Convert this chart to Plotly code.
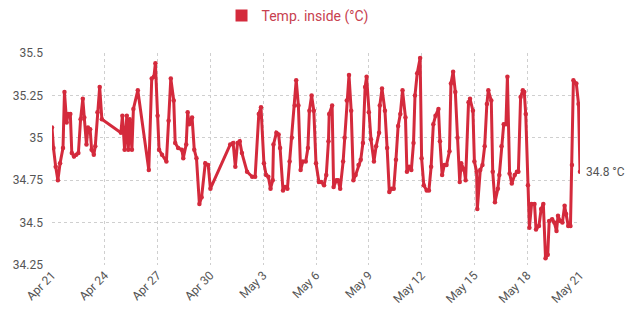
import pandas as pd
import plotly.graph_objects as go

start = pd.Timestamp("2023-04-21 00:00")

hours = [0, 2, 5, 8, 11, 15, 17, 20, 22, 25, 27, 30, 33, 36, 39, 42, 44, 47, 49, 52, 54, 57, 59, 62, 65, 68,
         94, 96, 99, 102, 104, 106, 109, 111, 117, 132, 136, 139, 141, 144, 146, 150, 156, 159, 162, 166, 168,
         172, 177, 179, 183, 185, 187, 191, 194, 197, 201, 204, 209, 213, 216, 243, 247, 250, 253, 256, 259,
         266, 273, 277, 282, 285, 289, 292, 295, 298, 301, 302, 306, 309, 311, 315, 318, 321, 324, 327, 331,
         333, 336, 339, 342, 346, 349, 351, 354, 357, 360, 364, 367, 371, 374, 377, 378, 382, 384, 388, 390,
         393, 397, 399, 402, 405, 408, 411, 414, 418, 421, 424, 427, 429, 432, 435, 439, 442, 446, 447, 450,
         454, 457, 460, 463, 466, 469, 472, 475, 478, 482, 484, 487, 490, 493, 495, 498, 502, 504, 507, 511,
         514, 517, 520, 523, 527, 529, 532, 535, 538, 542, 544, 547, 550, 553, 556, 558, 562, 564, 568, 570,
         574, 576, 579, 580, 584, 587, 590, 593, 595, 599, 601, 604, 608, 610, 613, 616, 619, 621, 624, 627,
         631, 634, 636, 639, 642, 644, 646, 649, 651, 654, 658, 660, 664, 667, 670, 673, 676, 678, 682, 685,
         688, 690, 693, 696, 699, 701, 704, 707, 709, 711, 715, 718, 720]

temps = [35.06, 34.94, 34.83, 34.75, 34.85, 34.94, 35.27, 35.09, 35.14, 35.14, 34.91, 34.89, 34.90, 34.91,
         35.11, 35.23, 35.12, 34.96, 35.06, 35.05, 34.93, 34.90, 34.95, 35.15, 35.30, 35.11,
         35.03, 35.13, 34.93, 35.13, 34.93, 35.11, 34.93, 35.17, 35.28, 34.81, 35.35, 35.36, 35.44, 35.13,
         34.93, 34.90, 34.86, 35.10, 35.35, 35.22, 34.97, 34.94, 34.93, 34.88, 34.96, 35.15, 35.08, 35.12,
         34.93, 34.88, 34.61, 34.65, 34.85, 34.84, 34.70, 34.96, 34.97, 34.83, 34.97, 34.98, 34.91,
         34.80, 34.77, 34.77, 35.14, 35.18, 34.85, 34.78, 34.77, 34.70, 34.75, 34.96, 35.03, 35.02, 34.94,
         34.69, 34.71, 34.70, 34.86, 35.00, 35.19, 35.34, 35.19, 34.81, 34.86, 34.86, 34.94, 35.16, 35.25,
         35.16, 34.85, 34.74, 34.74, 34.72, 34.78, 34.98, 35.14, 35.19, 34.71, 34.75, 34.75, 34.70, 34.86,
         35.00, 35.22, 35.37, 35.16, 34.75, 34.78, 34.84, 34.87, 34.97, 35.30, 35.36, 35.15, 34.99, 34.86,
         34.95, 35.03, 35.19, 35.29, 35.16, 34.94, 34.68, 34.70, 34.70, 34.87, 35.07, 35.14, 35.28, 35.12,
         34.80, 34.83, 34.81, 34.97, 35.25, 35.38, 35.47, 34.88, 34.72, 34.69, 34.69, 34.83, 35.08, 35.13,
         35.17, 34.98, 34.78, 34.84, 34.84, 34.92, 35.32, 35.39, 35.27, 35.00, 34.74, 34.85, 34.81, 34.75,
         35.21, 35.23, 35.16, 34.86, 34.80, 34.58, 34.81, 34.84, 34.95, 35.20, 35.28, 35.22, 34.80, 34.62,
         34.70, 34.78, 34.95, 35.08, 35.08, 35.36, 34.79, 34.73, 34.78, 34.80, 34.80, 35.24, 35.28, 35.27,
         35.14, 34.72, 34.47, 34.61, 34.61, 34.46, 34.48, 34.58, 34.61, 34.29, 34.31, 34.51, 34.52, 34.50,
         34.45, 34.54, 34.51, 34.50, 34.60, 34.55, 34.48, 34.48, 34.84, 35.34, 35.32, 35.20, 34.80]

y_ticks = [34.25, 34.5, 34.75, 35, 35.25, 35.5]
y_tick_labels = ["34.25", "34.5", "34.75", "35", "35.25", "35.5"]
series_name = "Temp. inside (°C)"
last_label = "34.8 °C"

times = [start + pd.Timedelta(hours=h) for h in hours]

RED = "#d42a3c"
GRID = "#cfcfcf"
TXT = "#555555"

fig = go.Figure()
fig.add_trace(go.Scatter(
    x=times, y=temps, mode="lines+markers",
    line=dict(color=RED, width=3),
    marker=dict(color=RED, size=4.5),
    showlegend=False, hoverinfo="x+y",
))
fig.add_trace(go.Scatter(
    x=[None], y=[None], mode="markers", name=series_name,
    marker=dict(color=RED, size=14, symbol="square"),
    showlegend=True,
))

fig.add_annotation(
    x=times[-1], y=temps[-1], text=last_label, showarrow=False,
    xanchor="left", xshift=4, font=dict(family="Roboto", size=12, color=TXT),
)

fig.update_layout(
    width=629, height=309,
    margin=dict(l=52, r=49, t=53, b=44, autoexpand=False),
    paper_bgcolor="white", plot_bgcolor="white",
    font=dict(family="Roboto", size=12, color=TXT),
    legend=dict(orientation="h", x=0.465, xanchor="center", y=1.175, yanchor="middle",
                font=dict(size=14, color="#c8414f"), itemsizing="constant",
                bgcolor="rgba(0,0,0,0)"),
    showlegend=True,
)

fig.update_xaxes(
    range=[start, start + pd.Timedelta(days=30)],
    tick0=start, dtick=3 * 86400000, tickformat="%b %-d", tickangle=-45,
    showgrid=True, gridcolor=GRID, griddash="dot", gridwidth=1,
    showline=False, zeroline=False, ticks="", automargin=False,
    tickfont=dict(size=12, color=TXT),
)
fig.update_yaxes(
    range=[34.25, 35.5], tickvals=y_ticks, ticktext=y_tick_labels,
    showgrid=True, gridcolor=GRID, griddash="dot", gridwidth=1,
    showline=False, zeroline=False, ticks="", ticklabelstandoff=8, automargin=False,
    tickfont=dict(size=12, color=TXT),
)

fig.write_html(
    "out.html",
    config={"displayModeBar": False},
    post_script="document.body.style.margin='0';document.body.style.overflow='hidden';",
)
